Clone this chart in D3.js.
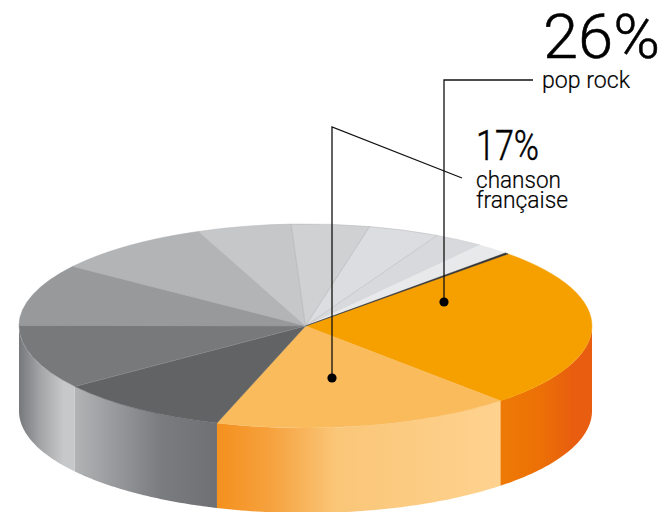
<!DOCTYPE html>
<html><head><meta charset="utf-8">
<script src="https://cdn.jsdelivr.net/npm/d3@7/dist/d3.min.js"></script>
<style>html,body{margin:0;padding:0;background:#fff}svg{display:block}text{font-family:Roboto,sans-serif;fill:#000}</style>
</head><body><svg id="c" width="661" height="512"></svg>
<script>
const shares=[25.6,16.9,9.9,10.2,9.8,9,5.3,4.4,4,2.8,1.9,0.2];
const topColors=["#f6a000","#f9bb5c","#626365","#78797b","#98999b","#b3b4b6","#c6c7c9","#d0d1d3","#dcdde0","#d8d9dc","#e8e9ea","#333333"];
const strokeColors=["none","none","none","#8d8e90","#8d8e90","#a5a6a8","#b5b6b8","#b0b1b3","#b4b5b7","#c0c1c3","none","#333333"];
const wallStops=[
 {id:"w1",stops:[[0,"#ee7a05"],[.45,"#ec7006"],[.8,"#e85d0f"],[1,"#e85d0f"]]},
 {id:"w2",stops:[[0,"#f4901e"],[.2,"#f6a340"],[.42,"#fac678"],[1,"#fed28f"]]},
 {id:"w3",stops:[[0,"#b2b3b5"],[.6,"#7b7c7f"],[1,"#6f7073"]]},
 {id:"w4",stops:[[0,"#77787b"],[.4,"#a5a6a8"],[.8,"#c7c8ca"],[1,"#c7c8ca"]]}
];
const pctLabels=[{t:"26%",x:543,y:58,size:62,w:117},{t:"17%",x:476,y:160,size:42,w:63}];
const subLabels=[{t:"pop rock",x:542,y:88,w:88},{t:"chanson",x:476,y:188,w:85},{t:"française",x:476,y:208,w:92}];
const leaders=[[[444,302],[444,80],[533,80]],[[332,378],[332,127],[462,178]]];

const cx=305.5,cy=326,rx=286.5,ry=102,depth=85;
const svg=d3.select("#c"),defs=svg.append("defs");
const pie=d3.pie().sort(null).startAngle(Math.PI/4).endAngle(Math.PI/4+2*Math.PI);
const arcs=pie(shares);
const X=d3.scaleLinear().domain([-1,1]).range([cx-rx,cx+rx]);
const Y=d3.scaleLinear().domain([-1,1]).range([cy-ry,cy+ry]);
const px=a=>X(Math.sin(a)),py=a=>Y(-Math.cos(a));

const bounds=[Math.PI/2,arcs[0].endAngle,arcs[1].endAngle,arcs[2].endAngle,3*Math.PI/2];
const pathLine=d3.line().x(d=>d[0]).y(d=>d[1]);
wallStops.forEach((g,k)=>{
  const a0=bounds[k],a1=bounds[k+1];
  const xa=Math.min(px(a0),px(a1)),xb=Math.max(px(a0),px(a1));
  const lg=defs.append("linearGradient").attr("id",g.id).attr("gradientUnits","userSpaceOnUse")
    .attr("x1",xa).attr("x2",xb).attr("y1",0).attr("y2",0);
  g.stops.forEach(s=>lg.append("stop").attr("offset",s[0]).attr("stop-color",s[1]));
  const as=d3.range(0,61).map(i=>a0+(a1-a0)*i/60);
  const pts=as.map(a=>[px(a),py(a)]).concat(as.slice().reverse().map(a=>[px(a),py(a)+depth]));
  svg.append("path").attr("d",pathLine(pts)+"Z").attr("fill",`url(#${g.id})`);
});

const arc=d3.arc().innerRadius(0).outerRadius(1);
const face=svg.append("g").attr("transform",`translate(${cx},${cy}) scale(${rx},${ry})`);
face.selectAll("path").data(arcs).join("path").attr("d",arc)
  .attr("fill",(d,i)=>topColors[i]).attr("stroke",(d,i)=>strokeColors[i]==="none"?topColors[i]:strokeColors[i])
  .attr("stroke-width",.5).attr("vector-effect","non-scaling-stroke");

leaders.forEach(pts=>{
  svg.append("path").attr("d",pathLine(pts)).attr("fill","none").attr("stroke","#111").attr("stroke-width",1.3);
  svg.append("circle").attr("cx",pts[0][0]).attr("cy",pts[0][1]).attr("r",4.6).attr("fill","#000");
});
pctLabels.forEach(l=>svg.append("text").attr("x",l.x).attr("y",l.y).attr("font-size",l.size).attr("font-weight",300)
  .attr("stroke","#000").attr("stroke-width",.5)
  .attr("textLength",l.w).attr("lengthAdjust","spacingAndGlyphs").text(l.t));
subLabels.forEach(l=>svg.append("text").attr("x",l.x).attr("y",l.y).attr("font-size",23).attr("font-weight",300)
  .attr("stroke","#000").attr("stroke-width",.2)
  .attr("textLength",l.w).attr("lengthAdjust","spacingAndGlyphs").text(l.t));
</script></body></html>
